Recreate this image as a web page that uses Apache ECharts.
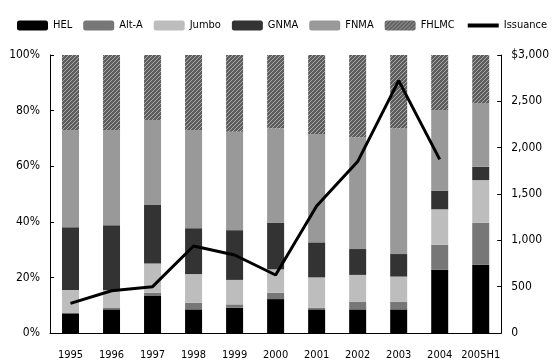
<!DOCTYPE html>
<html>
<head>
<meta charset="utf-8">
<script src="https://cdn.jsdelivr.net/npm/echarts@6/dist/echarts.min.js"></script>
<style>
    html, body { margin: 0; padding: 0; background: #fff; }
    #main { width: 552px; height: 363px; }
</style>
</head>
<body>
<div id="main"></div>
<script>
var years = ['1995', '1996', '1997', '1998', '1999', '2000', '2001', '2002', '2003', '2004', '2005H1'];
// share of issuance, %
var hel   = [7.1, 8.5, 13.3, 8.5, 9.1, 12.2, 8.5, 8.5, 8.5, 22.7, 24.5];
var altA  = [0, 0.5, 1.2, 2.4, 1.2, 2.3, 0.6, 2.8, 2.8, 9.0, 15.2];
var jumbo = [8.4, 6.5, 10.5, 10.3, 8.8, 8.4, 10.9, 9.6, 9.0, 12.8, 15.3];
var gnma  = [22.5, 23.3, 21.0, 16.5, 17.9, 16.8, 12.6, 9.3, 8.1, 6.7, 4.8];
var fnma  = [35.0, 34.2, 30.6, 35.3, 35.4, 33.9, 39.0, 40.1, 45.2, 29.0, 22.8];
var fhlmc = [27.0, 27.0, 23.4, 27.0, 27.6, 26.4, 28.4, 29.7, 26.4, 19.8, 17.4];
// issuance, $bn (right axis)
var issuance = [320, 456, 500, 939, 842, 626, 1370, 1850, 2723, 1874, null];

var font = '"DejaVu Sans Condensed", "Liberation Sans Narrow", sans-serif';

// hatched fill for FHLMC
var hatch = document.createElement('canvas');
hatch.width = 4;
hatch.height = 4;
var hc = hatch.getContext('2d');
hc.fillStyle = '#5e5e5e';
hc.fillRect(0, 0, 4, 4);
hc.strokeStyle = '#a8a8a8';
hc.lineWidth = 1;
hc.beginPath();
hc.moveTo(0, 4);
hc.lineTo(4, 0);
hc.stroke();

function bar(name, data, color) {
    return {
        name: name,
        type: 'bar',
        stack: 'share',
        barWidth: 17,
        data: data,
        itemStyle: { color: color }
    };
}

var myChart = echarts.init(document.getElementById('main'));
var option = {
    animation: false,
    textStyle: { fontFamily: font },
    legend: {
        left: 17,
        top: 20,
        padding: 0,
        itemWidth: 31,
        itemHeight: 10,
        itemGap: 11,
        textStyle: { fontFamily: font, fontSize: 11, color: '#000' },
        data: ['HEL', 'Alt-A', 'Jumbo', 'GNMA', 'FNMA', 'FHLMC',
            { name: 'Issuance', itemStyle: { color: 'rgba(0,0,0,0)', borderWidth: 0 }, lineStyle: { width: 4, color: '#000' } }]
    },
    grid: { left: 50, right: 45, top: 55, bottom: 30 },
    xAxis: {
        type: 'category',
        data: years,
        axisLine: { lineStyle: { color: '#000', width: 1 } },
        axisTick: { inside: true, length: 6, lineStyle: { color: '#000' } },
        axisLabel: { interval: 0, margin: 17, fontSize: 11, color: '#000', fontFamily: font }
    },
    yAxis: [
        {
            type: 'value',
            min: 0,
            max: 100,
            interval: 20,
            axisLine: { show: true, lineStyle: { color: '#000' } },
            axisTick: { show: true, inside: true, length: 4, lineStyle: { color: '#000' } },
            splitLine: { show: false },
            axisLabel: { formatter: '{value}%', margin: 10, fontSize: 12, color: '#000', fontFamily: font }
        },
        {
            type: 'value',
            min: 0,
            max: 3000,
            interval: 500,
            axisLine: { show: true, lineStyle: { color: '#000' } },
            axisTick: { show: true, inside: true, length: 4, lineStyle: { color: '#000' } },
            splitLine: { show: false },
            axisLabel: {
                margin: 10, fontSize: 12, color: '#000', fontFamily: font,
                formatter: function (v) {
                    var s = v.toLocaleString('en-US');
                    return v === 3000 ? '$' + s : s;
                }
            }
        }
    ],
    series: [
        bar('HEL', hel, '#000000'),
        bar('Alt-A', altA, '#777777'),
        bar('Jumbo', jumbo, '#bdbdbd'),
        bar('GNMA', gnma, '#333333'),
        bar('FNMA', fnma, '#999999'),
        bar('FHLMC', fhlmc, { image: hatch, repeat: 'repeat' }),
        {
            name: 'Issuance',
            type: 'line',
            yAxisIndex: 1,
            data: issuance,
            symbol: 'none',
            lineStyle: { color: '#000', width: 3 },
            itemStyle: { color: '#000' },
            z: 5
        }
    ]
};
myChart.setOption(option);
</script>
</body>
</html>
